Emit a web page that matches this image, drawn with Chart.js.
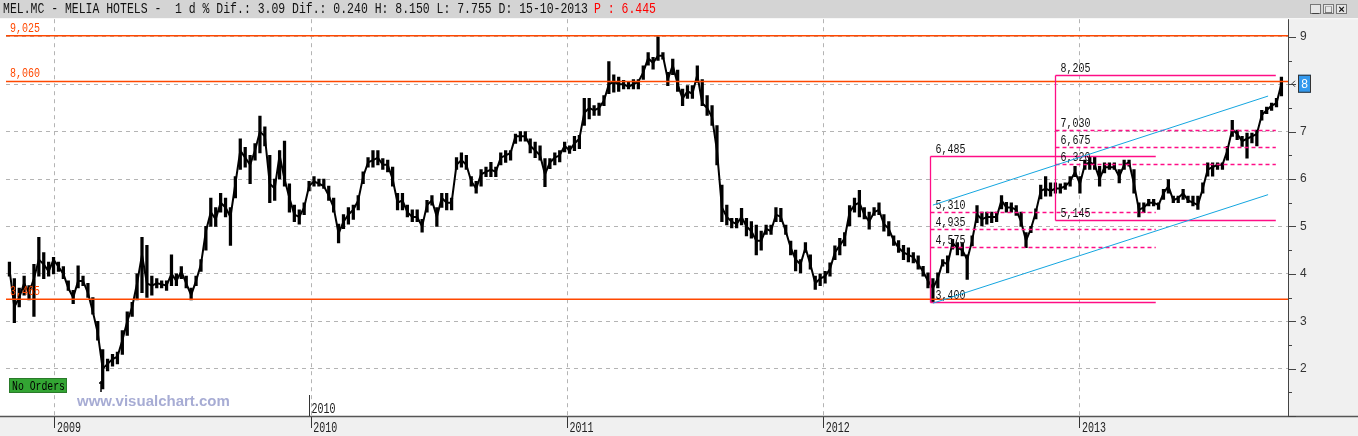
<!DOCTYPE html>
<html><head><meta charset="utf-8">
<script src="https://cdn.jsdelivr.net/npm/chart.js@4.4.0/dist/chart.umd.min.js"></script>
<style>html,body{margin:0;padding:0;background:#fff;overflow:hidden}canvas{display:block}</style>
</head><body>
<canvas id="c" width="1358" height="436"></canvas>
<script>
// ---- data (weekly bars) ----
const startDate = '2008-10-28';
const weekLow = [
3.95,2.97,3.3,3.55,3.45,3.1,3.95,3.9,3.95,4.0,
4.05,3.9,3.65,3.37,3.7,3.75,3.5,3.15,2.6,1.57,
1.95,2.05,2.1,2.3,2.7,3.1,3.45,3.6,3.5,3.55,
3.7,3.7,3.65,3.75,3.75,3.9,3.7,3.45,3.75,4.05,
4.5,5.0,5.0,5.3,5.2,4.6,5.6,6.2,6.25,5.9,
6.4,6.55,6.7,5.5,5.55,6.0,5.85,5.3,5.1,5.05,
5.25,5.75,5.85,5.85,5.8,5.55,5.3,4.65,4.95,5.05,
5.15,5.35,5.9,6.25,6.25,6.3,6.2,6.15,5.85,5.35,
5.35,5.2,5.1,5.1,4.88,5.3,5.45,5.0,5.4,5.35,
5.35,6.2,6.25,6.2,5.85,5.7,5.85,6.05,6.05,6.05,
6.3,6.35,6.4,6.75,6.8,6.8,6.55,6.45,6.4,5.84,
6.22,6.3,6.36,6.57,6.54,6.6,6.64,7.13,7.27,7.34,
7.34,7.55,7.8,7.83,7.85,7.9,7.9,7.9,7.9,8.1,
8.4,8.32,8.5,8.53,7.97,8.2,7.85,7.55,7.7,7.7,
8.04,7.55,7.34,7.13,6.3,5.1,5.03,4.97,4.97,5.03,
4.8,4.75,4.4,4.5,4.83,4.83,5.1,5.1,4.83,4.4,
4.06,4.02,4.45,4.1,3.67,3.75,3.8,3.95,4.3,4.4,
4.59,5.01,5.3,5.2,5.16,4.94,5.23,5.25,4.9,4.8,
4.6,4.45,4.3,4.25,4.23,4.1,3.95,3.7,3.4,3.7,
4.16,4.02,4.52,4.4,4.38,3.88,4.59,5.08,5.01,5.05,
5.08,5.1,5.37,5.3,5.3,5.23,5.0,4.55,4.87,5.16,
5.58,5.64,5.64,5.7,5.7,5.78,5.85,6.05,5.7,6.2,
6.2,6.2,5.85,6.13,6.2,6.2,5.92,6.2,6.27,5.7,
5.2,5.29,5.43,5.43,5.36,5.57,5.7,5.5,5.5,5.57,
5.5,5.43,5.36,5.7,6.06,6.06,6.2,6.2,6.4,6.9,
6.83,6.69,6.44,6.76,6.7,7.24,7.38,7.45,7.52,7.755
];
const weekHigh = [
4.25,3.9,3.7,3.95,3.75,4.2,4.77,4.45,4.25,4.35,
4.25,4.15,3.85,3.65,4.17,3.95,3.8,3.5,3.0,2.4,
2.2,2.3,2.35,2.8,3.2,3.4,4.0,4.77,4.6,3.95,
3.9,3.85,3.85,4.4,4.0,4.15,3.95,3.7,3.95,4.3,
5.0,5.6,5.4,5.7,5.6,5.4,6.05,6.85,6.67,6.5,
6.75,7.33,7.1,6.5,6.0,6.6,6.8,5.9,5.45,5.35,
5.5,5.95,6.05,6.0,6.0,5.85,5.6,5.05,5.25,5.4,
5.45,5.65,6.15,6.45,6.6,6.6,6.43,6.4,6.25,5.7,
5.7,5.45,5.35,5.35,5.15,5.55,5.65,5.4,5.7,5.7,
5.6,6.45,6.55,6.5,6.05,5.95,6.2,6.25,6.35,6.25,
6.55,6.6,6.6,6.95,7.0,7.0,6.85,6.78,6.7,6.43,
6.43,6.55,6.6,6.78,6.7,6.9,6.92,7.7,7.7,7.55,
7.6,7.76,8.48,8.2,8.15,8.08,8.05,8.1,8.1,8.39,
8.67,8.57,9.0,8.67,8.25,8.53,8.3,7.9,7.97,7.97,
8.39,8.1,7.76,7.55,7.13,5.87,5.45,5.17,5.17,5.38,
5.17,5.1,5.03,4.9,5.03,5.03,5.4,5.38,5.03,4.69,
4.5,4.3,4.66,4.4,3.95,4.0,4.05,4.23,4.59,4.75,
4.87,5.44,5.6,5.76,5.4,5.3,5.4,5.5,5.25,5.1,
4.8,4.7,4.6,4.55,4.45,4.38,4.16,4.02,3.9,4.02,
4.3,4.38,4.73,4.66,4.66,4.4,4.8,5.44,5.3,5.3,
5.3,5.3,5.65,5.51,5.5,5.44,5.3,4.87,5.0,5.37,
5.87,6.05,5.92,5.92,5.9,5.92,6.05,6.27,6.05,6.4,
6.47,6.47,6.27,6.34,6.34,6.34,6.2,6.4,6.4,6.2,
5.5,5.5,5.57,5.57,5.5,5.78,5.99,5.64,5.64,5.78,
5.64,5.64,5.64,5.92,6.34,6.34,6.34,6.34,6.69,7.24,
7.03,6.9,6.97,6.97,7.03,7.45,7.52,7.6,7.7,8.15
];
const weekClose = [
4.1,3.3,3.5,3.8,3.6,3.9,4.3,4.2,4.05,4.3,
4.15,4.0,3.7,3.5,3.85,3.85,3.6,3.2,2.75,2.0,
2.1,2.2,2.25,2.6,3.0,3.3,3.8,4.4,3.8,3.75,
3.8,3.78,3.75,4.0,3.85,4.05,3.8,3.55,3.85,4.2,
4.9,5.3,5.15,5.5,5.4,5.2,5.9,6.6,6.45,6.3,
6.6,7.0,6.9,5.9,5.8,6.5,6.0,5.6,5.25,5.2,
5.4,5.85,5.95,5.9,5.85,5.65,5.4,4.85,5.1,5.25,
5.35,5.55,6.05,6.35,6.4,6.45,6.3,6.3,6.0,5.5,
5.55,5.3,5.2,5.2,5.0,5.45,5.55,5.2,5.6,5.5,
5.5,6.3,6.4,6.3,5.95,5.8,6.1,6.15,6.2,6.15,
6.45,6.5,6.55,6.9,6.9,6.9,6.7,6.6,6.5,6.1,
6.35,6.45,6.5,6.7,6.6,6.75,6.85,7.4,7.5,7.45,
7.5,7.65,8.0,8.05,8.0,8.0,7.95,8.0,8.05,8.25,
8.55,8.45,8.6,8.6,8.1,8.4,8.0,7.7,7.85,7.8,
8.2,7.6,7.5,7.3,6.6,5.4,5.2,5.1,5.05,5.2,
5.0,4.9,4.7,4.7,4.95,4.9,5.25,5.2,4.9,4.55,
4.3,4.2,4.55,4.2,3.8,3.9,3.95,4.1,4.45,4.6,
4.75,5.3,5.45,5.5,5.25,5.1,5.3,5.35,5.05,4.95,
4.7,4.55,4.45,4.4,4.35,4.2,4.05,3.85,3.7,3.9,
4.25,4.2,4.65,4.55,4.5,4.3,4.7,5.25,5.15,5.2,
5.2,5.2,5.55,5.4,5.4,5.35,5.1,4.7,4.95,5.3,
5.75,5.8,5.75,5.8,5.8,5.85,5.95,6.15,5.9,6.3,
6.35,6.3,6.0,6.25,6.25,6.25,6.05,6.3,6.35,5.9,
5.35,5.4,5.5,5.5,5.45,5.7,5.85,5.55,5.6,5.7,
5.55,5.5,5.45,5.8,6.2,6.25,6.3,6.3,6.6,7.05,
6.95,6.8,6.85,6.9,6.95,7.35,7.45,7.55,7.6,8.01
];
const yearTicks = [2009, 2010, 2011, 2012, 2013];
const xRange = [2008.809, 2013.812];
const yRange = [1, 9.372];
const yTickStep = 0.25;
const supportLevels = [9.025, 8.060, 3.465];
const box1Dates = ['2012-06-01', '2013-04-19'];
const box1Levels = [6.485, 5.310, 4.935, 4.575, 3.400];
const box2Dates = ['2012-11-26', '2013-10-07'];
const box2Levels = [8.205, 7.030, 6.675, 6.320, 5.145];
const channelDates = ['2012-06-05', '2013-09-26'];
const channelUpper = [5.45, 7.75];
const channelLower = [3.38, 5.67];
const headerText = 'MEL.MC - MELIA HOTELS -  1 d % Dif.: 3.09 Dif.: 0.240 H: 8.150 L: 7.755 D: 15-10-2013';
const headerPrice = 'P : 6.445';
const markerYear = 2010;

// ---- helpers ----
const DAY = 86400000;
function decYearMs(ms){const d=new Date(ms);const y=d.getUTCFullYear();const a=Date.UTC(y,0,1),b=Date.UTC(y+1,0,1);return y+(ms-a)/(b-a);}
function decYear(s){return decYearMs(Date.parse(s+'T00:00:00Z'));}
const t0 = Date.parse(startDate+'T00:00:00Z');
const xs = weekClose.map((_,i)=>decYearMs(t0+i*7*DAY));
const fmt = v => v.toFixed(3).replace('.', ',');
const lastClose = weekClose[weekClose.length-1];

const ORANGE='#ff4800', PINK='#ff0d86', CYAN='#14a6e0';
const MONO="'Liberation Mono','DejaVu Sans Mono',monospace";

const framePlugin = {
  id:'frame',
  beforeDraw(chart){
    const {ctx, chartArea:a, width:W, height:H} = chart;
    ctx.save();
    ctx.fillStyle='#ffffff'; ctx.fillRect(0,0,W,H);
    ctx.fillStyle='#f0f0f0';
    ctx.fillRect(a.right,a.top,W-a.right,H-a.top);
    ctx.fillRect(0,a.bottom,W,H-a.bottom);
    ctx.fillStyle='#d4d4d4'; ctx.fillRect(0,0,W,a.top-1);
    ctx.restore();
  },
  afterDatasetsDraw(chart){
    const {ctx, chartArea:a, scales:{x,y}} = chart;
    ctx.save();
    ctx.beginPath(); ctx.rect(a.left,a.top,a.right-a.left+2,a.bottom-a.top); ctx.clip();
    // orange support/resistance lines
    ctx.lineWidth=1.5; ctx.strokeStyle=ORANGE;
    supportLevels.forEach(v=>{
      const py=y.getPixelForValue(v);
      ctx.beginPath(); ctx.moveTo(a.left,py); ctx.lineTo(a.right,py); ctx.stroke();
      ctx.font='13px '+MONO; ctx.fillStyle=ORANGE; ctx.textBaseline='alphabetic'; ctx.textAlign='left';
      ctx.fillText(fmt(v), a.left+4, py-4, 30);
    });
    // boxes
    [[box1Dates,box1Levels],[box2Dates,box2Levels]].forEach(([d,lv])=>{
      const xl=Math.round(x.getPixelForValue(decYear(d[0])))+0.5, xr=x.getPixelForValue(decYear(d[1]));
      ctx.strokeStyle=PINK; ctx.lineWidth=1.3;
      lv.forEach((v,i)=>{
        const py=Math.round(y.getPixelForValue(v))+0.5;
        ctx.setLineDash(i===0||i===lv.length-1?[]:[4,3]);
        ctx.beginPath(); ctx.moveTo(xl,py); ctx.lineTo(xr,py); ctx.stroke();
      });
      ctx.setLineDash([]);
      ctx.beginPath(); ctx.moveTo(xl,Math.round(y.getPixelForValue(lv[0]))+0.5); ctx.lineTo(xl,Math.round(y.getPixelForValue(lv[lv.length-1]))+0.5); ctx.stroke();
      ctx.font='13px '+MONO; ctx.fillStyle='#111'; ctx.textAlign='left';
      lv.forEach(v=>{ ctx.fillText(fmt(v), xl+5, y.getPixelForValue(v)-3, 30); });
    });
    // channel
    ctx.strokeStyle=CYAN; ctx.lineWidth=1;
    [channelUpper,channelLower].forEach(c=>{
      ctx.beginPath();
      ctx.moveTo(x.getPixelForValue(decYear(channelDates[0])), y.getPixelForValue(c[0]));
      ctx.lineTo(x.getPixelForValue(decYear(channelDates[1])), y.getPixelForValue(c[1]));
      ctx.stroke();
    });
    ctx.restore();
  },
  afterDraw(chart){
    const {ctx, chartArea:a, scales:{x,y}, width:W, height:H} = chart;
    ctx.save();
    // axis lines
    ctx.strokeStyle='#444'; ctx.lineWidth=1;
    ctx.beginPath(); ctx.moveTo(a.right+0.5,a.top); ctx.lineTo(a.right+0.5,a.bottom); ctx.stroke();
    ctx.strokeStyle='#555'; ctx.lineWidth=1.5;
    ctx.beginPath(); ctx.moveTo(0,a.bottom+0.5); ctx.lineTo(W,a.bottom+0.5); ctx.stroke();
    // y ticks (major / minor)
    ctx.strokeStyle='#444'; ctx.lineWidth=1;
    y.ticks.forEach(t=>{
      const py=Math.round(y.getPixelForValue(t.value))+0.5;
      const len=Number.isInteger(t.value)?8:4;
      ctx.beginPath(); ctx.moveTo(a.right,py); ctx.lineTo(a.right+len,py); ctx.stroke();
    });
    // year labels
    ctx.fillStyle='#222'; ctx.font='15px '+MONO; ctx.textAlign='left'; ctx.textBaseline='alphabetic';
    yearTicks.forEach(v=>{ ctx.fillText(String(v), x.getPixelForValue(v)+2, a.bottom+16, 24); });
    // in-chart year marker
    const mx=Math.round(x.getPixelForValue(markerYear))-1.5;
    ctx.strokeStyle='#333'; ctx.beginPath(); ctx.moveTo(mx,a.bottom-21); ctx.lineTo(mx,a.bottom); ctx.stroke();
    ctx.fillText(String(markerYear), mx+2, a.bottom-3, 24);
    // header
    ctx.font='15px '+MONO; ctx.fillStyle='#111';
    ctx.fillText(headerText, 3, 13, 585);
    ctx.fillStyle='#ff0000';
    ctx.fillText(headerPrice, 594, 13, 62);
    // window buttons
    ['_','\u25A1','\u00D7'].forEach((g,i)=>{
      const bx=W-48+i*13;
      ctx.fillStyle='#e6e6e6'; ctx.fillRect(bx,4,11,10);
      ctx.strokeStyle='#777'; ctx.strokeRect(bx+0.5,4.5,10,9);
      ctx.fillStyle='#111'; ctx.font='bold 11px '+MONO; ctx.textAlign='center';
      ctx.fillText(g, bx+5.5, 13);
    });
    // last price box
    const py=y.getPixelForValue(lastClose);
    ctx.fillStyle='#3399ee'; ctx.fillRect(a.right+10,py-9,13,18);
    ctx.strokeStyle='#333'; ctx.strokeRect(a.right+10.5,py-8.5,12,17);
    ctx.fillStyle='#fff'; ctx.font='12px Liberation Sans'; ctx.textAlign='center'; ctx.textBaseline='middle';
    ctx.fillText(String(Math.floor(lastClose)), a.right+16.5, py+1);
    ctx.strokeStyle='#333'; ctx.beginPath(); ctx.moveTo(a.right+7,py-3); ctx.lineTo(a.right+4,py); ctx.lineTo(a.right+7,py+3); ctx.stroke();
    // no orders badge
    ctx.textBaseline='alphabetic'; ctx.textAlign='left';
    ctx.fillStyle='#33a533'; ctx.fillRect(9,378,58,15);
    ctx.strokeStyle='#2a7a2a'; ctx.strokeRect(9.5,378.5,57,14);
    ctx.fillStyle='#000'; ctx.font='13px '+MONO; ctx.fillText('No Orders', 12, 390, 53);
    // small cursor mark
    ctx.strokeStyle='#000'; ctx.lineWidth=1.5;
    ctx.beginPath(); ctx.moveTo(101,381); ctx.lineTo(101,392); ctx.moveTo(99,383); ctx.lineTo(104,383); ctx.stroke();
    // watermark
    ctx.fillStyle='#a7acd4'; ctx.font='bold 15px Liberation Sans';
    ctx.fillText('www.visualchart.com', 77, 406, 168);
    ctx.restore();
  }
};

new Chart(document.getElementById('c'), {
  type:'line',
  data:{datasets:[
    {type:'bar', data: weekLow.map((lo,i)=>({x:xs[i], y:[lo, weekHigh[i]]})), backgroundColor:'#000', borderWidth:0, barThickness:2.6, grouped:false, order:2},
    {type:'line', data: weekClose.map((c,i)=>({x:xs[i], y:c})), borderColor:'#000', borderWidth:2, pointRadius:0, tension:0, order:1}
  ]},
  options:{
    responsive:false, animation:false, devicePixelRatio:1,
    layout:{padding:{left:6, top:19, right:0, bottom:0}},
    plugins:{legend:{display:false}, tooltip:{enabled:false}},
    scales:{
      x:{type:'linear', min:xRange[0], max:xRange[1], offset:false,
        afterBuildTicks:s=>{s.ticks=yearTicks.map(v=>({value:v}));},
        afterFit:s=>{s.height=20;},
        ticks:{display:false},
        grid:{offset:false, color:'#b4b4b4', lineWidth:1, drawTicks:true, tickLength:12, tickColor:'#333', tickBorderDash:[]},
        border:{display:false, dash:[4,4]}},
      y:{type:'linear', position:'right', min:yRange[0], max:yRange[1], beginAtZero:false,
        afterBuildTicks:s=>{const t=[];for(let k=Math.ceil(yRange[0]/yTickStep);k*yTickStep<=yRange[1];k++)t.push({value:k*yTickStep});s.ticks=t;},
        afterFit:s=>{s.width=70;},
        ticks:{padding:12, color:'#333', font:{family:'Liberation Sans', size:12},
          callback:v=>(Number.isInteger(v)&&v>yRange[0])?String(v):''},
        grid:{offset:false, drawTicks:false, lineWidth:1, color:c=>(c.tick&&Number.isInteger(c.tick.value)&&c.tick.value>yRange[0])?'#b4b4b4':'rgba(0,0,0,0)'},
        border:{display:false, dash:[4,4]}}
    }
  },
  plugins:[framePlugin]
});
</script>
</body></html>
